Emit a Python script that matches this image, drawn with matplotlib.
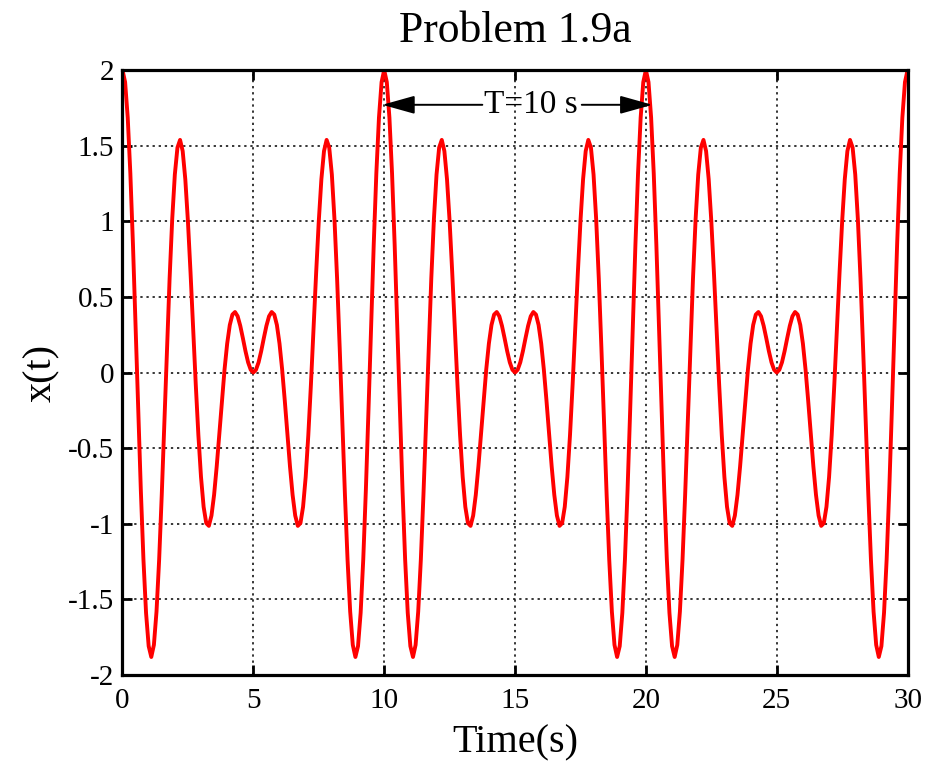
import numpy as np
import matplotlib
matplotlib.use('Agg')
import matplotlib.pyplot as plt

plt.rcParams['font.family'] = ['Liberation Serif', 'DejaVu Serif']
plt.rcParams['axes.unicode_minus'] = False

# one period (t = 0 .. 10 s, step 0.1 s)
x_period = [
    2.000, 1.920, 1.685, 1.317, 0.845, 0.309, -0.246, -0.775, -1.235, -1.589,
    -1.809, -1.881, -1.801, -1.580, -1.239, -0.809, -0.328, 0.162, 0.622, 1.014,
    1.309, 1.487, 1.538, 1.464, 1.278, 1.000, 0.660, 0.289, -0.080, -0.415,
    -0.691, -0.888, -0.996, -1.014, -0.946, -0.809, -0.621, -0.404, -0.183, 0.021,
    0.191, 0.314, 0.383, 0.400, 0.372, 0.309, 0.227, 0.141, 0.067, 0.018,
    0.000,
    0.018, 0.067, 0.141, 0.227, 0.309, 0.372, 0.400, 0.383, 0.314, 0.191,
    0.021, -0.183, -0.404, -0.621, -0.809, -0.946, -1.014, -0.996, -0.888, -0.691,
    -0.415, -0.080, 0.289, 0.660, 1.000, 1.278, 1.464, 1.538, 1.487, 1.309,
    1.014, 0.622, 0.162, -0.328, -0.809, -1.239, -1.580, -1.801, -1.881, -1.809,
    -1.589, -1.235, -0.775, -0.246, 0.309, 0.845, 1.317, 1.685, 1.920, 2.000,
]
# the signal repeats every 10 s over the 30 s shown
x = x_period + x_period[1:] + x_period[1:]
t = np.linspace(0, 30, len(x))

xticks = [0, 5, 10, 15, 20, 25, 30]
yticks = [-2, -1.5, -1, -0.5, 0, 0.5, 1, 1.5, 2]
ytick_labels = ['-2', '-1.5', '-1', '-0.5', '0', '0.5', '1', '1.5', '2']

fig = plt.figure(figsize=(9.28, 7.61), dpi=100)
ax = fig.add_axes([0.132, 0.113, 0.846, 0.795])

ax.plot(t, x, color='r', linewidth=2.8)

ax.set_xlim(0, 30)
ax.set_ylim(-2, 2)
ax.set_xticks(xticks)
ax.set_xticklabels([str(v) for v in xticks])
ax.set_yticks(yticks)
ax.set_yticklabels(ytick_labels)
ax.tick_params(direction='in', length=7, width=2, labelsize=21,
               top=True, right=True, pad=6)
ax.tick_params(axis='x', pad=9)
for s in ax.spines.values():
    s.set_linewidth(2.3)
ax.grid(True, color='k', linestyle=(0, (1.5, 2.5)), linewidth=1.1)

ax.set_title('Problem 1.9a', fontsize=31.5, pad=20)
ax.set_xlabel('Time(s)', fontsize=29, labelpad=8)
ax.set_ylabel('x(t)', fontsize=29, labelpad=6)

# period marker
y_arr = 1.77
ax.text(15.6, y_arr, 'T=10 s', fontsize=24, ha='center', va='center')
aprops = dict(arrowstyle='-|>,head_length=1.0,head_width=0.28', color='k',
              lw=1.4, mutation_scale=20, shrinkA=0, shrinkB=0)
ax.annotate('', xy=(9.93, y_arr), xytext=(13.75, y_arr), arrowprops=aprops)
ax.annotate('', xy=(20.25, y_arr), xytext=(17.55, y_arr), arrowprops=aprops)

fig.savefig('out.png', dpi=100)
